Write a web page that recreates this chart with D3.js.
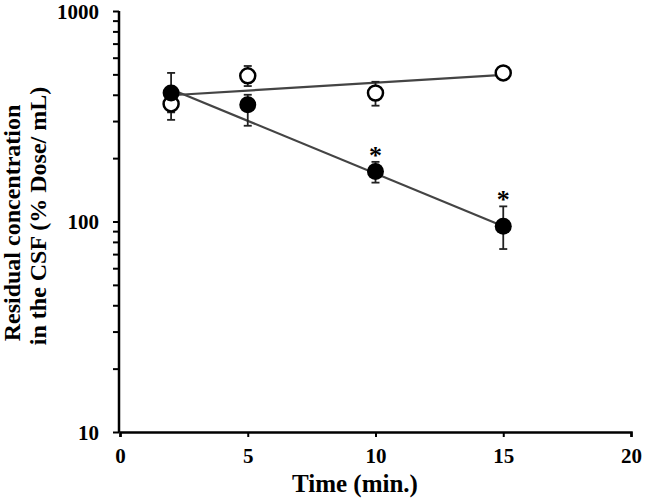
<!DOCTYPE html>
<html>
<head>
<meta charset="utf-8">
<script src="https://cdn.jsdelivr.net/npm/d3@7"></script>
<style>
  body { margin: 0; background: #fff; }
  text { font-family: "Liberation Serif", "Times New Roman", serif; font-weight: bold; }
</style>
</head>
<body>
<div id="chart"></div>
<script>
// chart size
const width = 645;
const height = 498;
const margin = {top: 11, right: 14, bottom: 66, left: 120};

// data
const times = [2, 5, 10, 15];
const filledMean = [408, 359, 173, 95];
const filledUp = [508, 400, 192, 118];
const filledLow = [330, 285, 153, 74];
const openMean = [362, 492, 408, 508];
const openUp = [400, 548, 461, 530];
const openLow = [304, 440, 355, 490];
const starTimes = [10, 15];
// fitted lines (start/end)
const filledFit = [{t: 2, v: 425}, {t: 15, v: 95}];
const openFit = [{t: 2, v: 398}, {t: 15, v: 497}];
const xTicks = [0, 5, 10, 15, 20];
const yTicks = [10, 100, 1000];

const svg = d3.select("#chart").append("svg")
    .attr("width", width)
    .attr("height", height);

const x = d3.scaleLinear().domain([0, 20]).range([margin.left, width - margin.right]);
const y = d3.scaleLog().domain([10, 1000]).range([height - margin.bottom, margin.top]);

// minor ticks on log axis
const minor = [];
for (let d = 10; d < 1000; d *= 10) {
    for (let k = 2; k <= 9; k++) minor.push(d * k);
}

// y axis
const yAxis = svg.append("g")
    .attr("transform", `translate(${margin.left - 1},0)`)
    .call(d3.axisLeft(y).tickValues(yTicks.concat(minor)).tickSize(6)
        .tickFormat(d => yTicks.includes(d) ? d : ""));
yAxis.select(".domain").attr("stroke-width", 2.5).attr("d", `M0,${y(10)}V${y(1000)}`);
yAxis.selectAll(".tick line").attr("stroke-width", 2);
yAxis.selectAll(".tick text").attr("font-size", 21).attr("x", -20).attr("dy", "0.35em");

// x axis
const xAxis = svg.append("g")
    .attr("transform", `translate(0,${y(10)})`)
    .call(d3.axisBottom(x).tickValues(xTicks).tickSize(5).tickSizeOuter(5));
xAxis.select(".domain").attr("stroke-width", 2.5);
xAxis.selectAll(".tick line").attr("stroke-width", 2);
xAxis.selectAll(".tick text").attr("font-size", 21).attr("y", 16);

// axis titles
svg.append("text")
    .attr("x", 355)
    .attr("y", 492)
    .attr("text-anchor", "middle")
    .attr("font-size", 25)
    .text("Time (min.)");

svg.append("text")
    .attr("transform", "translate(20,223) rotate(-90)")
    .attr("text-anchor", "middle")
    .attr("font-size", 24)
    .text("Residual concentration");
svg.append("text")
    .attr("transform", "translate(46,216) rotate(-90)")
    .attr("text-anchor", "middle")
    .attr("font-size", 24)
    .text("in the CSF (% Dose/ mL)");

// fit lines
const line = d3.line().x(d => x(d.t)).y(d => y(d.v));
svg.append("path").datum(openFit).attr("d", line)
    .attr("fill", "none").attr("stroke", "#444").attr("stroke-width", 2.2);
svg.append("path").datum(filledFit).attr("d", line)
    .attr("fill", "none").attr("stroke", "#444").attr("stroke-width", 2.2);

// error bars
function errBars(means, ups, lows) {
    const g = svg.append("g").attr("stroke", "#222").attr("stroke-width", 1.8);
    times.forEach((t, i) => {
        g.append("line").attr("x1", x(t)).attr("x2", x(t)).attr("y1", y(ups[i])).attr("y2", y(lows[i]));
        g.append("line").attr("x1", x(t) - 4).attr("x2", x(t) + 4).attr("y1", y(ups[i])).attr("y2", y(ups[i]));
        g.append("line").attr("x1", x(t) - 4).attr("x2", x(t) + 4).attr("y1", y(lows[i])).attr("y2", y(lows[i]));
    });
}
errBars(openMean, openUp, openLow);
errBars(filledMean, filledUp, filledLow);

// open circles
svg.selectAll("circle.open")
    .data(times)
    .enter()
    .append("circle")
    .attr("class", "open")
    .attr("cx", d => x(d))
    .attr("cy", (d, i) => y(openMean[i]))
    .attr("r", 7.5)
    .attr("fill", "white")
    .attr("stroke", "black")
    .attr("stroke-width", 2.5);

// filled circles
svg.selectAll("circle.filled")
    .data(times)
    .enter()
    .append("circle")
    .attr("class", "filled")
    .attr("cx", d => x(d))
    .attr("cy", (d, i) => y(filledMean[i]))
    .attr("r", 8.5)
    .attr("fill", "black");

// significance marks
svg.selectAll("text.star")
    .data(starTimes)
    .enter()
    .append("text")
    .attr("class", "star")
    .attr("x", d => x(d))
    .attr("y", d => y(filledUp[times.indexOf(d)]) + 2)
    .attr("text-anchor", "middle")
    .attr("font-size", 26)
    .text("*");
</script>
</body>
</html>
